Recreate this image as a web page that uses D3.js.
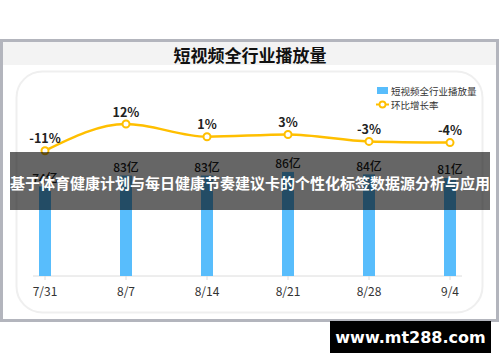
<!doctype html>
<html lang="zh">
<head>
  <meta charset="utf-8">
  <title>短视频全行业播放量</title>
  <style>
    body { margin: 0; background: #fff; }
    svg { display: block; font-family: "Noto Sans CJK SC", "Noto Sans", sans-serif; }
  </style>
</head>
<body>
  <div id="chart"></div>

  <script src="https://d3js.org/d3.v7.min.js"></script>
  <script>
    // data
    const weeks = ['7/31', '8/7', '8/14', '8/21', '8/28', '9/4'];
    const plays = [74, 83, 83, 86, 84, 81];        // 亿
    const growth = [-11, 12, 1, 3, -3, -4];        // %
    const seriesNames = ['短视频全行业播放量', '环比增长率'];
    const title = '短视频全行业播放量';
    const banner = '基于体育健康计划与每日健康节奏建议卡的个性化标签数据源分析与应用';
    const watermark = 'www.mt288.com';

    const width = 500, height = 362;
    const blue = '#58bdfc', gold = '#ffbf00';

    const svg = d3.select('#chart').append('svg')
      .attr('width', width)
      .attr('height', height);

    // outer frame + title band
    svg.append('rect')
      .attr('x', 1.5).attr('y', 40.5)
      .attr('width', 496).attr('height', 280)
      .attr('fill', '#fff')
      .attr('stroke', '#b3b5bd').attr('stroke-width', 3);
    svg.append('rect')
      .attr('x', 3).attr('y', 42)
      .attr('width', 493).attr('height', 23)
      .attr('fill', '#f3f3f3');
    svg.append('text')
      .attr('x', 250).attr('y', 54)
      .attr('text-anchor', 'middle').attr('dominant-baseline', 'central')
      .attr('font-size', 17).attr('font-weight', 'bold').attr('fill', '#111')
      .text(title);

    // inner rounded panel
    svg.append('rect')
      .attr('x', 16.5).attr('y', 71.5)
      .attr('width', 466).attr('height', 241)
      .attr('rx', 26)
      .attr('fill', '#fff')
      .attr('stroke', '#efefef').attr('stroke-width', 2);

    // scales
    const x = d3.scalePoint().domain(weeks).range([45, 450]);
    const yBar = d3.scaleLinear().domain([0, 100]).range([276, 155]);
    const yLine = d3.scaleLinear().domain([-11, 12]).range([150.7, 124]);

    // baseline axis
    const axis = svg.append('g').attr('transform', 'translate(0,276)');
    axis.append('line')
      .attr('x1', 33).attr('x2', 462)
      .attr('stroke', '#dcdcdc');
    axis.selectAll('line.tick')
      .data(weeks)
      .join('line')
      .attr('class', 'tick')
      .attr('x1', d => x(d)).attr('x2', d => x(d))
      .attr('y1', 0).attr('y2', 4)
      .attr('stroke', '#dcdcdc');
    axis.selectAll('text')
      .data(weeks)
      .join('text')
      .attr('x', d => x(d)).attr('y', 14)
      .attr('text-anchor', 'middle').attr('dominant-baseline', 'central')
      .attr('font-size', 12).attr('fill', '#333')
      .text(d => d);

    // bars
    const barW = 12;
    svg.append('g')
      .selectAll('rect')
      .data(plays)
      .join('rect')
      .attr('x', (d, i) => x(weeks[i]) - barW / 2)
      .attr('y', d => yBar(d))
      .attr('width', barW)
      .attr('height', d => yBar(0) - yBar(d))
      .attr('fill', blue);

    svg.append('g')
      .selectAll('text')
      .data(plays)
      .join('text')
      .attr('x', (d, i) => x(weeks[i]))
      .attr('y', d => yBar(d) - 9)
      .attr('text-anchor', 'middle').attr('dominant-baseline', 'central')
      .attr('font-size', 12).attr('font-weight', 500).attr('fill', '#222')
      .text(d => d + '亿');

    // growth line
    const line = d3.line()
      .x((d, i) => x(weeks[i]))
      .y(d => yLine(d))
      .curve(d3.curveMonotoneX);

    svg.append('path')
      .datum(growth)
      .attr('d', line)
      .attr('fill', 'none')
      .attr('stroke', gold).attr('stroke-width', 2.5);

    svg.append('g')
      .selectAll('circle')
      .data(growth)
      .join('circle')
      .attr('cx', (d, i) => x(weeks[i]))
      .attr('cy', d => yLine(d))
      .attr('r', 3.5)
      .attr('fill', '#fff')
      .attr('stroke', gold).attr('stroke-width', 2);

    svg.append('g')
      .selectAll('text')
      .data(growth)
      .join('text')
      .attr('x', (d, i) => x(weeks[i]))
      .attr('y', d => yLine(d) - 13)
      .attr('text-anchor', 'middle').attr('dominant-baseline', 'central')
      .attr('font-size', 12.5).attr('font-weight', 'bold').attr('fill', '#222')
      .text(d => d + '%');

    // legend
    const legend = svg.append('g').attr('font-size', 9.5).attr('fill', '#333');
    legend.append('rect')
      .attr('x', 377).attr('y', 87)
      .attr('width', 11).attr('height', 7)
      .attr('fill', blue);
    legend.append('text')
      .attr('x', 391).attr('y', 90.5)
      .attr('dominant-baseline', 'central')
      .text(seriesNames[0]);
    legend.append('line')
      .attr('x1', 376).attr('x2', 389)
      .attr('y1', 104.5).attr('y2', 104.5)
      .attr('stroke', gold).attr('stroke-width', 2);
    legend.append('circle')
      .attr('cx', 382.5).attr('cy', 104.5).attr('r', 3)
      .attr('fill', '#fff').attr('stroke', gold).attr('stroke-width', 1.8);
    legend.append('text')
      .attr('x', 391).attr('y', 104.5)
      .attr('dominant-baseline', 'central')
      .text(seriesNames[1]);

    // dark banner over the chart
    svg.append('rect')
      .attr('x', 10).attr('y', 152)
      .attr('width', 480).attr('height', 58)
      .attr('fill', 'rgba(0,0,0,0.6)');
    svg.append('text')
      .attr('x', 250).attr('y', 182)
      .attr('text-anchor', 'middle').attr('dominant-baseline', 'central')
      .attr('font-size', 15).attr('font-weight', 'bold').attr('fill', '#fff')
      .text(banner);

    // watermark box
    svg.append('rect')
      .attr('x', 330).attr('y', 321)
      .attr('width', 161).attr('height', 32)
      .attr('fill', '#000');
    svg.append('text')
      .attr('x', 410.5).attr('y', 337)
      .attr('text-anchor', 'middle').attr('dominant-baseline', 'central')
      .attr('font-family', '"DejaVu Sans", sans-serif')
      .attr('font-size', 16).attr('font-weight', 'bold').attr('fill', '#fff')
      .text(watermark);
  </script>
</body>
</html>
